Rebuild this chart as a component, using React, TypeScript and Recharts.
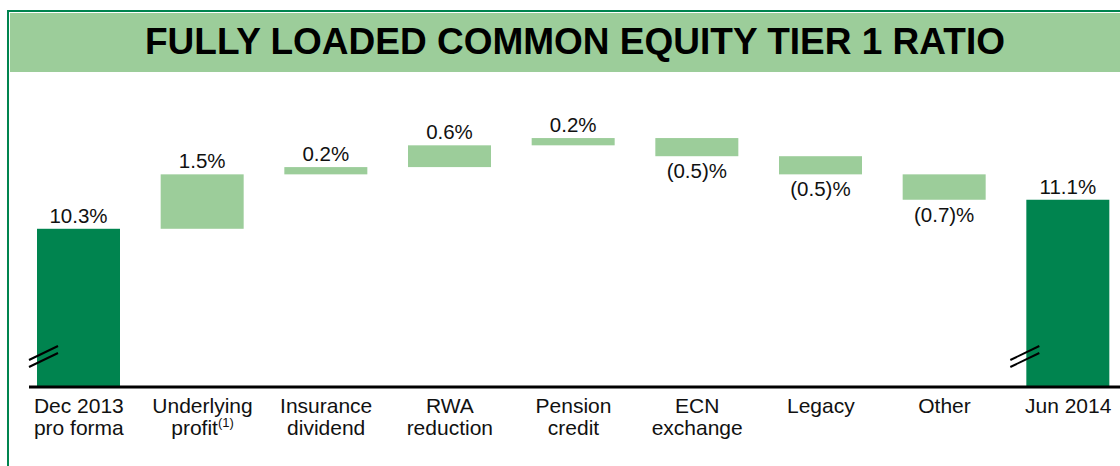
import { Bar, BarChart, XAxis, YAxis } from "recharts";

const DARK = "#00844f";
const LIGHT = "#9ccd9a";
const FONT = '"Liberation Sans", Arial, Helvetica, sans-serif';

// category labels (first line / second line)
const categories = ["Dec 2013", "Underlying", "Insurance", "RWA", "Pension", "ECN", "Legacy", "Other", "Jun 2014"];
const subLabels = ["pro forma", "profit", "dividend", "reduction", "credit", "exchange", "", "", ""];

// opening / closing ratio (%), and the movements in between
const startRatio = 10.3;
const endRatio = 11.1;
const movements = [1.5, 0.2, 0.6, 0.2, -0.5, -0.5, -0.7];

// axis is broken, so the y scale starts well above zero
const AXIS_FLOOR = 5.94;
const AXIS_TOP = 14.4;

const fmt = (v: number) => (v < 0 ? `(${Math.abs(v).toFixed(1)})%` : `${v.toFixed(1)}%`);

const buildData = () => {
  const rows: any[] = [];
  rows.push({ name: categories[0], range: [AXIS_FLOOR, startRatio], kind: "total", label: fmt(startRatio), below: false });
  let level = startRatio;
  movements.forEach((m, i) => {
    const next = level + m;
    rows.push({
      name: categories[i + 1],
      range: [Math.min(level, next), Math.max(level, next)],
      kind: "step",
      label: fmt(m),
      below: m < 0,
    });
    level = next;
  });
  rows.push({ name: categories[8], range: [AXIS_FLOOR, endRatio], kind: "total", label: fmt(endRatio), below: false, last: true });
  return rows;
};

const data = buildData();

const WaterfallShape = (props: any) => {
  const { x, y, width, height, payload } = props;
  const top = Math.min(y, y + height);
  const h = Math.abs(height);
  const bottom = top + h;
  const isTotal = payload.kind === "total";
  const cx = x + width / 2;
  const labelY = payload.below ? bottom + 22 : top - 6;
  const bx = payload.last ? x - 16 : x - 8;
  return (
    <g>
      <rect x={x} y={top} width={width} height={h} fill={isTotal ? DARK : LIGHT} />
      {isTotal && (
        <g stroke="#000" strokeWidth={2}>
          <line x1={bx} y1={bottom - 27} x2={bx + 29} y2={bottom - 41} />
          <line x1={bx} y1={bottom - 20} x2={bx + 29} y2={bottom - 34} />
        </g>
      )}
      <text x={cx} y={labelY} textAnchor="middle" fontSize={20.5} fontFamily={FONT} fill="#111">
        {payload.label}
      </text>
    </g>
  );
};

const CategoryTick = (props: any) => {
  const { x, y, payload } = props;
  const idx = categories.indexOf(payload.value);
  const sub = subLabels[idx];
  return (
    <g>
      <text x={x} y={y + 26} textAnchor="middle" fontSize={21} fontFamily={FONT} fill="#111">
        {payload.value}
      </text>
      {sub && (
        <text x={x} y={y + 48} textAnchor="middle" fontSize={21} fontFamily={FONT} fill="#111">
          {sub}
          {idx === 1 && (
            <tspan fontSize={13} dy={-8}>
              (1)
            </tspan>
          )}
        </text>
      )}
    </g>
  );
};

export default function App() {
  return (
    <div style={{ position: "fixed", left: 0, top: 0, width: 1120, height: 466, overflow: "hidden", background: "#fff" }}>
      <div
        style={{
          position: "absolute",
          left: 7,
          top: 10,
          width: 1140,
          height: 470,
          borderLeft: `2.5px solid ${DARK}`,
          borderTop: `2.5px solid ${DARK}`,
        }}
      />
      <div
        style={{
          position: "absolute",
          left: 9.5,
          top: 12.5,
          width: 1131,
          height: 59.5,
          background: LIGHT,
          display: "flex",
          alignItems: "center",
          justifyContent: "center",
          fontFamily: FONT,
          fontWeight: 700,
          fontSize: 37,
          color: "#000",
        }}
      >
        FULLY LOADED COMMON EQUITY TIER 1 RATIO
      </div>
      <div style={{ position: "absolute", left: 0, top: 0 }}>
        <BarChart width={1140} height={466} data={data} margin={{ top: 80, right: 10, bottom: 19, left: 29 }}>
          <XAxis
            dataKey="name"
            height={60}
            padding={{ left: -12, right: 0 }}
            tickLine={false}
            tickSize={0}
            tickMargin={0}
            axisLine={{ stroke: "#000", strokeWidth: 3 }}
            tick={<CategoryTick />}
            interval={0}
          />
          <YAxis hide domain={[AXIS_FLOOR, AXIS_TOP]} />
          <Bar dataKey="range" barSize={83} shape={<WaterfallShape />} isAnimationActive={false} />
        </BarChart>
      </div>
    </div>
  );
}
